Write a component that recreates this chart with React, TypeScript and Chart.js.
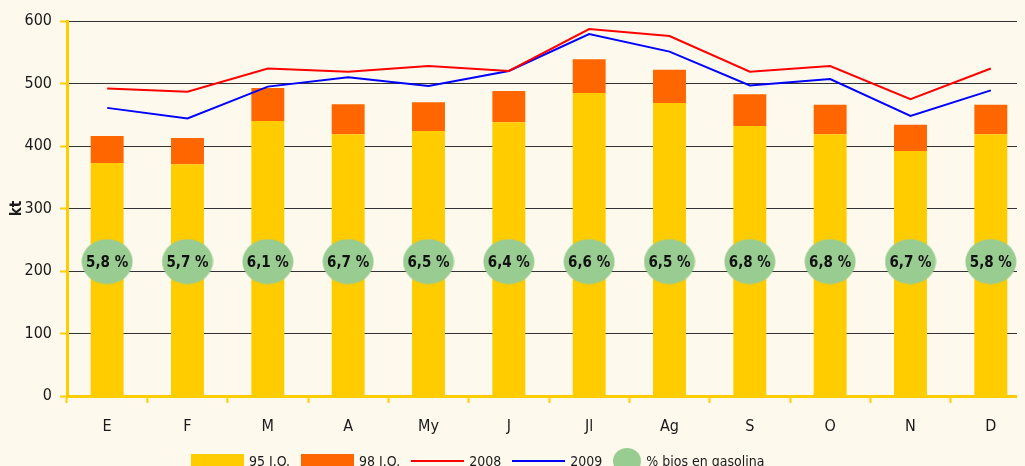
import React, { useEffect, useRef } from 'react';
import { Chart, registerables } from 'chart.js';

Chart.register(...registerables);

const months = ['E', 'F', 'M', 'A', 'My', 'J', 'Jl', 'Ag', 'S', 'O', 'N', 'D'];
const io95 = [373, 371, 440, 419, 424, 438, 485, 469, 432, 419, 392, 419];
const io98 = [43, 42, 53, 48, 46, 50, 54, 53, 51, 47, 42, 47];
const y2008 = [492, 487, 524, 519, 528, 520, 587, 576, 519, 528, 475, 524];
const y2009 = [461, 444, 495, 510, 496, 520, 579, 551, 497, 507, 448, 489];
const biosPct = ['5,8 %', '5,7 %', '6,1 %', '6,7 %', '6,5 %', '6,4 %', '6,6 %', '6,5 %', '6,8 %', '6,8 %', '6,7 %', '5,8 %'];
const biosLevel = [215, 215, 215, 215, 215, 215, 215, 215, 215, 215, 215, 215];
const yTickValues = [0, 100, 200, 300, 400, 500, 600];

const FONT = "'Liberation Sans Narrow', 'DejaVu Sans Condensed', 'Roboto Condensed', sans-serif";
const BG = '#FDF9EC';
const YELLOW = '#FFCC00';
const ORANGE = '#FF6600';
const RED = '#FF0000';
const BLUE = '#0000FF';
const GREEN = '#99CC91';
const TEXT = '#1a1a1a';

function makeEllipse(w: number, h: number): HTMLCanvasElement {
  const c = document.createElement('canvas');
  c.width = w;
  c.height = h;
  const ctx = c.getContext('2d')!;
  ctx.fillStyle = GREEN;
  ctx.beginPath();
  ctx.ellipse(w / 2, h / 2, w / 2 - 0.5, h / 2 - 0.5, 0, 0, Math.PI * 2);
  ctx.fill();
  return c;
}

const biosLabelPlugin = {
  id: 'biosLabels',
  afterDatasetsDraw(chart: any) {
    const idx = chart.data.datasets.findIndex((d: any) => d.label === '% bios en gasolina');
    if (idx < 0) return;
    const meta = chart.getDatasetMeta(idx);
    const ctx = chart.ctx;
    ctx.save();
    ctx.fillStyle = '#111';
    ctx.font = `bold 15px ${FONT}`;
    ctx.textAlign = 'center';
    ctx.textBaseline = 'middle';
    meta.data.forEach((el: any, i: number) => {
      ctx.fillText(biosPct[i], el.x, el.y + 1);
    });
    ctx.restore();
  },
};

export default function App() {
  const ref = useRef<HTMLCanvasElement>(null);

  useEffect(() => {
    document.body.style.background = BG;
    const ellipse = makeEllipse(52, 46);
    const chart = new Chart(ref.current!, {
      type: 'bar',
      data: {
        labels: months,
        datasets: [
          {
            type: 'bar',
            label: '95 I.O.',
            data: io95,
            backgroundColor: YELLOW,
            stack: 'bars',
            order: 2,
            barPercentage: 0.41,
            categoryPercentage: 1,
          },
          {
            type: 'bar',
            label: '98 I.O.',
            data: io98,
            backgroundColor: ORANGE,
            stack: 'bars',
            order: 2,
            barPercentage: 0.41,
            categoryPercentage: 1,
          },
          {
            type: 'line',
            label: '2008',
            data: y2008,
            borderColor: RED,
            backgroundColor: RED,
            borderWidth: 2,
            pointRadius: 0,
            tension: 0,
            stack: 's2008',
            order: 0,
          },
          {
            type: 'line',
            label: '2009',
            data: y2009,
            borderColor: BLUE,
            backgroundColor: BLUE,
            borderWidth: 2,
            pointRadius: 0,
            tension: 0,
            stack: 's2009',
            order: 0,
          },
          {
            type: 'line',
            label: '% bios en gasolina',
            data: biosLevel,
            showLine: false,
            pointStyle: ellipse as any,
            pointRadius: 20,
            backgroundColor: GREEN,
            borderColor: GREEN,
            stack: 'sbios',
            order: 1,
          },
        ] as any,
      },
      options: {
        animation: false,
        responsive: false,
        maintainAspectRatio: false,
        layout: { autoPadding: false, padding: { top: 13, right: 1, bottom: 0, left: 0 } },
        plugins: {
          legend: { display: false },
          tooltip: { enabled: false },
        },
        scales: {
          x: {
            stacked: true,
            offset: true,
            grid: {
              offset: true,
              drawOnChartArea: false,
              drawTicks: true,
              tickLength: 7,
              tickColor: YELLOW,
              tickWidth: 2,
            },
            border: { color: YELLOW, width: 3 },
            ticks: {
              color: TEXT,
              font: { family: FONT, size: 16 },
              padding: 14,
              maxRotation: 0,
              autoSkip: false,
            },
            afterFit: (s: any) => {
              s.height = 70;
              s.paddingLeft = 0;
              s.paddingRight = 0;
            },
          },
          y: {
            stacked: true,
            min: 0,
            max: 600,
            afterBuildTicks: (s: any) => {
              s.ticks = yTickValues.map((v) => ({ value: v }));
            },
            grid: {
              color: '#333333',
              lineWidth: 1,
              drawTicks: true,
              tickLength: 7,
              tickColor: YELLOW,
              tickWidth: 2,
            },
            border: { color: YELLOW, width: 3 },
            ticks: {
              color: TEXT,
              font: { family: FONT, size: 16 },
              padding: 8,
            },
            title: {
              display: true,
              text: 'kt',
              color: TEXT,
              font: { family: FONT, size: 15, weight: 'bold' },
              padding: { top: 0, bottom: 0 },
            },
            afterFit: (s: any) => {
              s.width = 59;
              s.paddingTop = 0;
              s.paddingBottom = 0;
            },
          },
        },
      },
      plugins: [biosLabelPlugin],
    } as any);
    return () => chart.destroy();
  }, []);

  const legendItems = [
    { label: '95 I.O.', kind: 'box', color: YELLOW },
    { label: '98 I.O.', kind: 'box', color: ORANGE },
    { label: '2008', kind: 'line', color: RED },
    { label: '2009', kind: 'line', color: BLUE },
    { label: '% bios en gasolina', kind: 'dot', color: GREEN },
  ];

  return (
    <div style={{ position: 'relative', width: 1017, height: 458, overflow: 'hidden', background: BG }}>
      <canvas ref={ref} width={1024} height={458} style={{ width: 1024, height: 458, display: 'block' }} />
      <div
        style={{
          position: 'absolute',
          left: 183,
          top: 443,
          height: 20,
          display: 'flex',
          alignItems: 'center',
          fontFamily: FONT,
          fontSize: 14,
          color: TEXT,
          whiteSpace: 'nowrap',
        }}
      >
        {legendItems.map((it) => (
          <div key={it.label} style={{ display: 'flex', alignItems: 'center', marginRight: 11 }}>
            {it.kind === 'box' && <span style={{ display: 'inline-block', width: 53, height: 15, background: it.color }} />}
            {it.kind === 'line' && <span style={{ display: 'inline-block', width: 53, height: 2, background: it.color }} />}
            {it.kind === 'dot' && (
              <span style={{ display: 'inline-block', width: 28, height: 26, borderRadius: '50%', background: it.color }} />
            )}
            <span style={{ marginLeft: 5 }}>{it.label}</span>
          </div>
        ))}
      </div>
    </div>
  );
}
